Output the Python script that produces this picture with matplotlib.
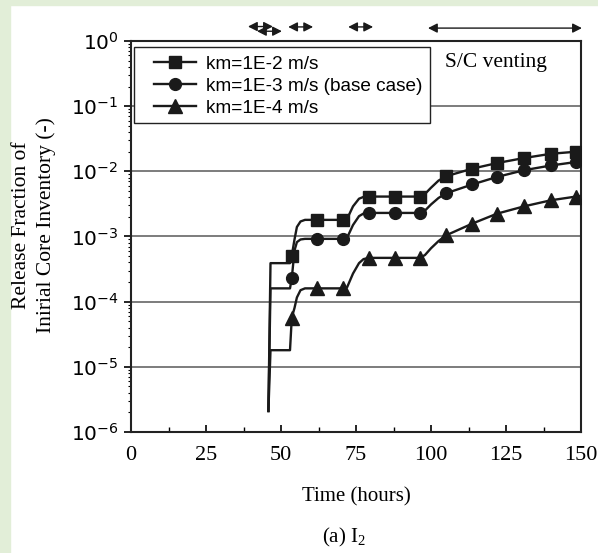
import matplotlib
matplotlib.use("Agg")
import matplotlib.pyplot as plt
from matplotlib.lines import Line2D
from matplotlib.patches import Rectangle

plt.rcParams['mathtext.fontset'] = 'custom'
plt.rcParams['mathtext.rm'] = 'Liberation Sans'
plt.rcParams['mathtext.it'] = 'Liberation Sans:italic'

# time axis of the curves (hours) and the three release fractions
t_line = [45.8, 46.5, 53.0, 53.6, 54.5, 55.3, 56.5, 58.0, 62.0, 70.8, 72.0, 74.0, 76.0, 77.5,
          79.3, 87.9, 96.3, 98.0, 100.0, 102.5, 105.0, 113.8, 122.0, 131.0, 140.0, 148.3, 150.0]
km_1e2 = [2.1e-6, 3.9e-4, 3.9e-4, 5.1e-4, 9.0e-4, 1.4e-3, 1.7e-3, 1.8e-3, 1.8e-3, 1.8e-3, 1.85e-3,
          2.9e-3, 3.8e-3, 4.05e-3, 4.1e-3, 4.1e-3, 4.1e-3, 4.5e-3, 5.6e-3, 7.2e-3, 8.4e-3,
          1.1e-2, 1.34e-2, 1.6e-2, 1.86e-2, 2.0e-2, 2.05e-2]
km_1e3 = [2.1e-6, 1.6e-4, 1.6e-4, 2.3e-4, 6.1e-4, 8.2e-4, 9.0e-4, 9.2e-4, 9.2e-4, 9.2e-4, 9.5e-4,
          1.5e-3, 2.05e-3, 2.25e-3, 2.3e-3, 2.3e-3, 2.3e-3, 2.5e-3, 3.1e-3, 3.9e-3, 4.6e-3,
          6.3e-3, 8.2e-3, 1.04e-2, 1.23e-2, 1.39e-2, 1.42e-2]
km_1e4 = [2.1e-6, 1.8e-5, 1.8e-5, 5.7e-5, 8.0e-5, 1.16e-4, 1.5e-4, 1.6e-4, 1.6e-4, 1.6e-4, 1.65e-4,
          2.7e-4, 3.9e-4, 4.5e-4, 4.7e-4, 4.7e-4, 4.7e-4, 5.2e-4, 6.6e-4, 8.5e-4, 1.04e-3,
          1.58e-3, 2.24e-3, 2.9e-3, 3.6e-3, 4.1e-3, 4.2e-3]
marker_idx = [3, 8, 9, 14, 15, 16, 20, 21, 22, 23, 24, 25]

labels = ["km=1E-2 m/s", "km=1E-3 m/s (base case)", "km=1E-4 m/s"]
markers = ["s", "o", "^"]

# venting periods shown as arrows above the plot
arr_start = [39.0, 42.0, 52.4, 72.4, 99.0]
arr_end = [47.3, 50.3, 60.7, 80.7, 150.3]
arr_y = [1.037, 1.025, 1.036, 1.036, 1.033]

col = "#1a1a1a"
serif = "Liberation Serif"

fig = plt.figure(figsize=(5.98, 5.53), dpi=100)
fig.patches.append(Rectangle((0, 0), 10 / 598, 1, transform=fig.transFigure, color="#e2eed8", zorder=-1))
fig.patches.append(Rectangle((0, 1 - 5 / 553), 1, 5 / 553, transform=fig.transFigure, color="#e2eed8", zorder=-1))
ax = fig.add_axes([131 / 598, 121 / 553, 450 / 598, 391 / 553])

for y, m in zip([km_1e2, km_1e3, km_1e4], markers):
    ax.plot(t_line, y, color=col, lw=1.7, marker=m, markersize=8.5 if m != "^" else 9.5,
            markevery=marker_idx, zorder=3)

ax.set_yscale("log")
ax.set_ylim(1e-6, 1)
ax.set_xlim(0, 150)
ax.set_xticks([0, 25, 50, 75, 100, 125, 150])
ax.set_xticks([12.5, 37.5, 62.5, 87.5, 112.5, 137.5], minor=True)
ax.grid(axis="y", which="major", color="#666666", lw=1.2)
for s in ax.spines.values():
    s.set_linewidth(1.5)
    s.set_color("#222222")

ax.tick_params(axis="x", which="both", direction="in", pad=10, labelsize=16)
ax.tick_params(axis="x", which="major", length=5, width=1.2)
ax.tick_params(axis="x", which="minor", length=3.5, width=1.0)
ax.tick_params(axis="y", which="major", direction="out", length=5, width=1.2, pad=4, labelsize=14.5)
ax.tick_params(axis="y", which="minor", direction="out", length=2.5, width=0.8)
for lab in ax.get_xticklabels():
    lab.set_family(serif)

ax.set_xlabel("Time (hours)", family=serif, fontsize=15)
ax.xaxis.set_label_coords(0.5, -0.14)
ax.set_ylabel("Release Fraction of\nInirial Core Inventory (-)", family=serif, fontsize=15.5,
              linespacing=1.35)
ax.yaxis.set_label_coords(-0.166, 0.53)

# legend frame drawn by hand so the entries can sit with a wide left margin
ax.add_patch(Rectangle((0.0067, 0.790), 0.657, 0.195, transform=ax.transAxes, facecolor="white",
                       edgecolor="#222222", lw=1.0, zorder=4))
handles = [Line2D([], [], color=col, lw=1.7, marker=m, markersize=8.5 if m != "^" else 9.5)
           for m in markers]
leg = ax.legend(handles, labels, loc="upper left", bbox_to_anchor=(0.051, 0.963), borderaxespad=0,
                frameon=False, handlelength=2.2, handletextpad=0.55, labelspacing=0.24,
                borderpad=0, prop={"family": "Liberation Sans", "size": 13.7})
leg.set_zorder(5)

ax.text(0.698, 0.944, "S/C venting", transform=ax.transAxes, family=serif, fontsize=15.5, va="center")

for x0, x1, yy in zip(arr_start, arr_end, arr_y):
    ax.annotate("", xy=(x1, yy), xytext=(x0, yy), xycoords=("data", "axes fraction"),
                textcoords=("data", "axes fraction"), annotation_clip=False,
                arrowprops=dict(arrowstyle="<|-|>,head_length=0.55,head_width=0.28",
                                color=col, lw=1.0, shrinkA=0, shrinkB=0))

fig.text(344 / 598, 1 - 537 / 553, "(a) I$_\\mathregular{2}$", family=serif, fontsize=15,
         ha="center", va="center")

fig.savefig("out.png", dpi=100)
